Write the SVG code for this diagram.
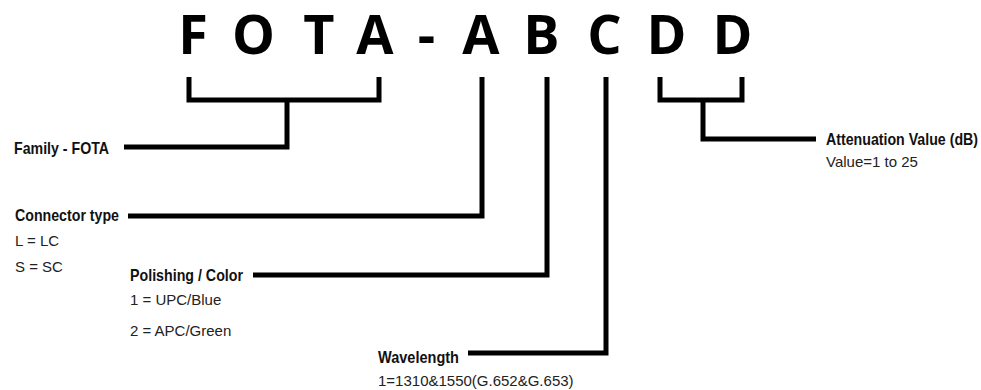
<svg xmlns="http://www.w3.org/2000/svg" width="981" height="390" viewBox="0 0 981 390">
<style>
.code{font-family:"Open Sans","DejaVu Sans",sans-serif;font-weight:700;font-size:54px;fill:#000;text-anchor:middle}
.lbl{font-family:"Liberation Sans Narrow","Liberation Sans",sans-serif;font-weight:700;font-size:17px;fill:#111}
.val{font-family:"Liberation Sans",Arial,sans-serif;font-size:15px;fill:#222}
.ln{fill:none;stroke:#000;stroke-width:5;stroke-linejoin:miter;stroke-linecap:butt}
</style>
<rect width="981" height="390" fill="#fff"/>
<g id="code">
<text class="code" x="193" y="54">F</text>
<text class="code" x="253.5" y="54">O</text>
<text class="code" x="319" y="54">T</text>
<text class="code" x="375" y="54">A</text>
<text class="code" x="426.5" y="54">-</text>
<text class="code" x="481" y="54">A</text>
<text class="code" x="541.5" y="54">B</text>
<text class="code" x="604.5" y="54">C</text>
<text class="code" x="666.5" y="54">D</text>
<text class="code" x="732.5" y="54">D</text>
</g>
<g id="connectors">
<path class="ln" d="M189,77 V100 H379 V77"/>
<path class="ln" d="M287,100 V147 H124"/>
<path class="ln" d="M128,216 H482 V77"/>
<path class="ln" d="M253,275 H547 V77"/>
<path class="ln" d="M468,353 H606 V77"/>
<path class="ln" d="M660,77 V100 H742 V77"/>
<path class="ln" d="M703,100 V139 H816"/>
</g>
<g id="family">
<text class="lbl" x="14" y="153.5" textLength="95" lengthAdjust="spacingAndGlyphs">Family - FOTA</text>
</g>
<g id="connector-type">
<text class="lbl" x="15" y="221" textLength="104" lengthAdjust="spacingAndGlyphs">Connector type</text>
<text class="val" x="15" y="246">L = LC</text>
<text class="val" x="15" y="272">S = SC</text>
</g>
<g id="polishing">
<text class="lbl" x="130" y="281" textLength="113" lengthAdjust="spacingAndGlyphs">Polishing / Color</text>
<text class="val" x="130" y="305" font-size="14.3">1 = UPC/Blue</text>
<text class="val" x="130" y="336" font-size="14.3">2 = APC/Green</text>
</g>
<g id="wavelength">
<text class="lbl" x="378" y="362.5" textLength="81" lengthAdjust="spacingAndGlyphs">Wavelength</text>
<text class="val" x="378" y="386">1=1310&amp;1550(G.652&amp;G.653)</text>
</g>
<g id="attenuation">
<text class="lbl" x="826" y="145" textLength="152" lengthAdjust="spacingAndGlyphs">Attenuation Value (dB)</text>
<text class="val" x="826" y="167">Value=1 to 25</text>
</g>
</svg>
